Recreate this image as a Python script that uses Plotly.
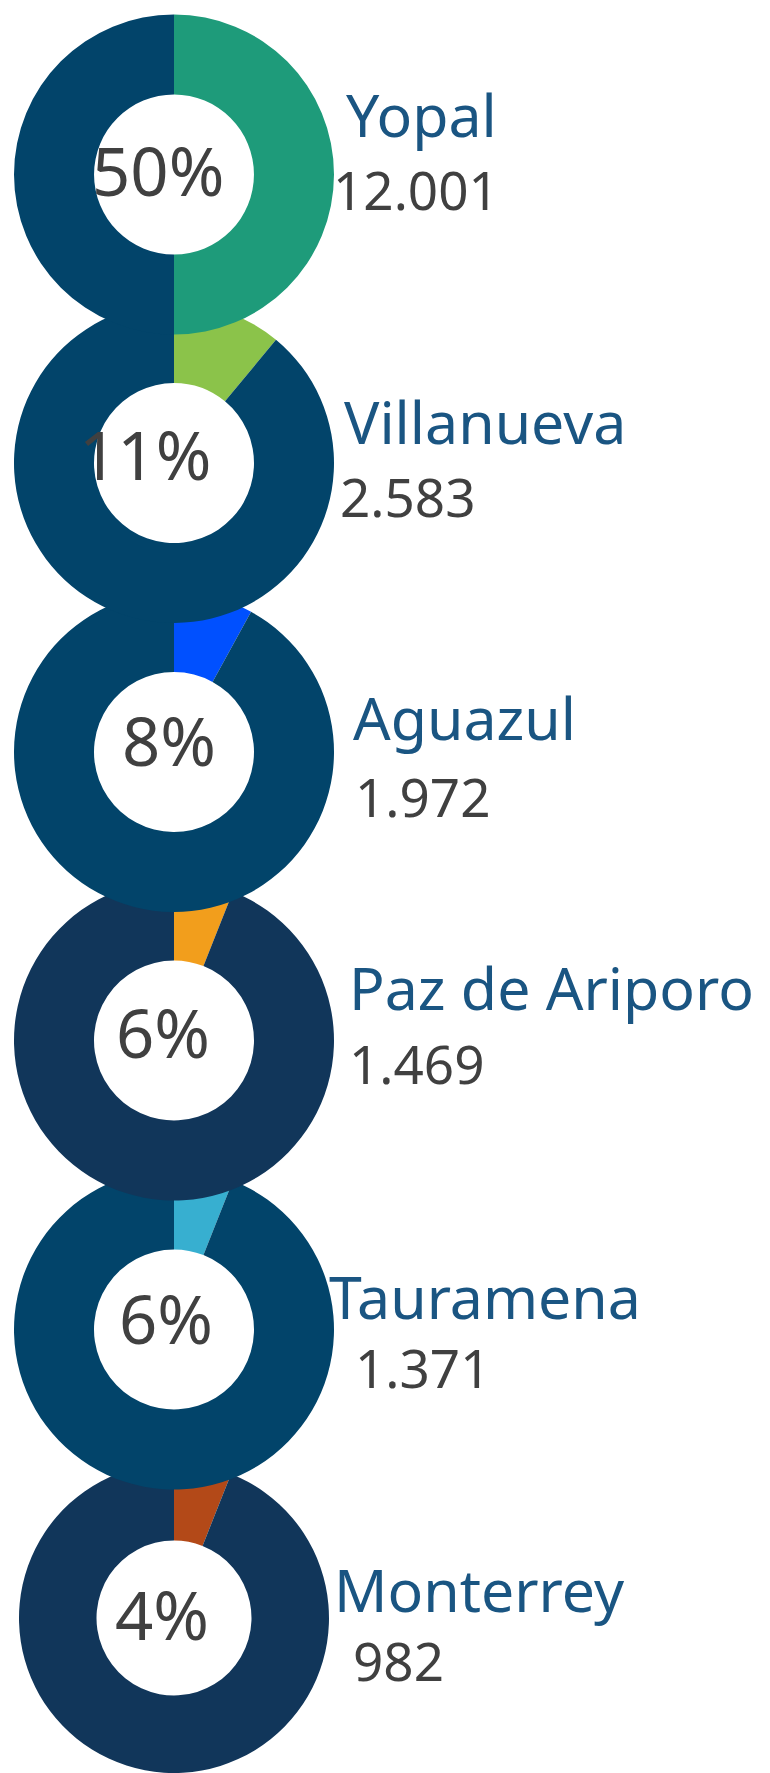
import plotly.graph_objects as go

# ---- data ----
municipios = ["Yopal", "Villanueva", "Aguazul", "Paz de Ariporo", "Tauramena", "Monterrey"]
valores = [12001, 2583, 1972, 1469, 1371, 982]
porcentajes = [50, 11, 8, 6, 6, 4]
# share of the ring covered by the coloured wedge
participacion_anillo = [50, 11, 8, 6, 6, 6]
colores = ["#1e9b7a", "#8bc34a", "#0050ff", "#f29e1c", "#37afd0", "#b34918"]
colores_resto = ["#02446a", "#02446a", "#02446a", "#11365a", "#02446a", "#11365a"]

# ---- layout (page pixels) ----
OFF = 8                      # default page margin around the figure
W, H = 770 - OFF, 1773 - OFF  # figure size that fits in the window
cx, R = 174, 160
centros_y = [174.5, 463, 752, 1040.5, 1329.5, 1618]
nombre_pos = [(344, 114), (342, 421), (351, 717), (347, 987), (327, 1296), (332, 1589)]
valor_pos = [(331, 190), (338, 497), (353, 796), (347, 1063), (353, 1367), (351, 1660)]
pct_pos = [(158, 170), (145, 454), (169, 740), (163, 1032), (166, 1318), (162, 1614)]

FONT = "Noto Sans, Open Sans, sans-serif"

def px(x):
    return min(max((x - OFF) / W, 0), 1)

def py(y):
    return min(max(1 - (y - OFF) / H, 0), 1)

fig = go.Figure()
order = list(range(len(municipios)))[::-1]  # draw the top donut last so it sits on top
for i in order:
    cy = centros_y[i]
    r = min(R, H + OFF - cy, cy - OFF)
    fig.add_trace(go.Pie(
        values=[participacion_anillo[i], 100 - participacion_anillo[i]],
        labels=[municipios[i], "Resto"],
        hole=0.5,
        sort=False,
        direction="clockwise",
        rotation=0,
        textinfo="none",
        hoverinfo="skip",
        showlegend=False,
        marker=dict(colors=[colores[i], colores_resto[i]], line=dict(width=0)),
        domain=dict(x=[px(cx - r), px(cx + r)], y=[py(cy + r), py(cy - r)]),
    ))

ann = []
for i, m in enumerate(municipios):
    nx, ny = nombre_pos[i]
    vx, vy = valor_pos[i]
    tx, ty = pct_pos[i]
    ann.append(dict(x=px(nx), y=py(ny), xref="paper", yref="paper", text=m,
                    showarrow=False, xanchor="left", yanchor="middle",
                    font=dict(family=FONT, size=59, color="#1a5582")))
    ann.append(dict(x=px(vx), y=py(vy), xref="paper", yref="paper",
                    text=f"{valores[i]:,}".replace(",", "."),
                    showarrow=False, xanchor="left", yanchor="middle",
                    font=dict(family=FONT, size=53, color="#404040")))
    ann.append(dict(x=px(tx), y=py(ty), xref="paper", yref="paper",
                    text=f"{porcentajes[i]}%",
                    showarrow=False, xanchor="center", yanchor="middle",
                    font=dict(family=FONT, size=67, color="#404040")))

fig.update_layout(
    width=W, height=H,
    margin=dict(l=0, r=0, t=0, b=0),
    paper_bgcolor="white", plot_bgcolor="white",
    annotations=ann,
)

fig.write_html("out.html")
